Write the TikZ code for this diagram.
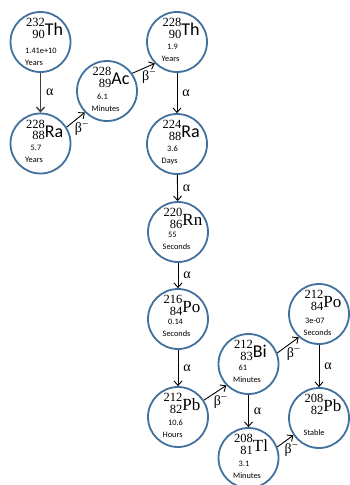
\documentclass[tikz,border=0pt]{standalone}
\usepackage{fontspec}
\setmainfont{Liberation Serif}
\newfontfamily\carl{Carlito}
\usetikzlibrary{arrows.meta}
\definecolor{ring}{HTML}{41719C}
\definecolor{darr}{HTML}{404040}
\newcommand\numsz{\fontsize{12.5}{11.5}\selectfont}
\newcommand\symS[1]{{\carl\fontsize{18}{18}\selectfont #1}}
\newcommand\symR[1]{{\fontsize{17}{17}\selectfont #1}}
\newcommand\isot[3]{\raisebox{2.5pt}{\numsz\begin{tabular}[c]{@{}r@{}}#1\\#2\end{tabular}}#3}
\newcommand\nuclide[9]{%
  \node[nuc] (#1) at (#2,#3) {};
  \node[isolab] (#1i) at ({#2-14.5},{#3-12}) {\isot{#4}{#5}{#6}};
  \node[small] (#1h) at ({#2-10},{#3+5+#9}) {#7};
  \node[small] (#1u) at ({#2-15.5},{#3+17+#9}) {#8};
}
\newcommand\betam{β\raisebox{5pt}{\fontsize{11}{11}\selectfont −}}
\begin{document}
\begin{tikzpicture}[x=1pt,y=-1pt,
  nuc/.style={circle, draw=ring, line width=1.8pt, fill=white, minimum size=60pt, inner sep=0pt},
  isolab/.style={anchor=west, inner sep=0pt},
  small/.style={anchor=west, inner sep=0pt, font=\carl\fontsize{8.3}{9}\selectfont, text height=6pt, text depth=1.6pt},
  arr/.style={-{Straight Barb[length=4.5pt,width=8pt]}, line width=0.9pt},
  alab/.style={right, inner sep=0pt, xshift=5pt, font=\fontsize{14}{14}\selectfont},
  blab/.style={pos=0.4, anchor=north west, inner sep=0.5pt, font=\fontsize{14}{14}\selectfont}]
\useasboundingbox (0,0) rectangle (350,485);

\nuclide{th232}{40.5}{42}{232}{90}{\symS{Th}}{\hspace*{-5.5pt}1.41e+10}{Years}{4}
\nuclide{ra228}{40.5}{143.5}{228}{88}{\symS{Ra}}{5.7}{Years}{0}
\nuclide{ac228}{107}{91}{228}{89}{\symS{Ac}}{6.1}{Minutes}{1}
\nuclide{th228}{177}{42}{228}{90}{\symS{Th}}{1.9}{Years}{0}
\nuclide{ra224}{177}{144}{224}{88}{\symS{Ra}}{3.6}{Days}{0}
\nuclide{rn220}{178}{232}{220}{86}{\symR{Rn}}{55}{Seconds}{-2}
\nuclide{po216}{178}{319}{216}{84}{\symR{Po}}{0.14}{Seconds}{-2}
\nuclide{pb212}{178}{417}{212}{82}{\symR{Pb}}{10.6}{Hours}{1}
\nuclide{bi212}{248.5}{364}{212}{83}{\symS{Bi}}{61}{Minutes}{-1}
\nuclide{po212}{319}{314}{212}{84}{\symR{Po}}{\hspace*{-4pt}3e-07}{Seconds}{2}
\nuclide{tl208}{248.5}{458}{208}{81}{\symR{Tl}}{3.1}{Minutes}{1}
\node[nuc] (pb208) at (319,418) {};
\node[isolab] (pb208i) at (304.5,406) {\isot{208}{82}{\symR{Pb}}};
\node[small] (pb208u) at (303.5,433) {Stable};

\draw[arr, draw=darr, line width=1.4pt] (th232) -- node[alab]{α} (ra228);
\draw[arr] (th228) -- node[alab]{α} (ra224);
\draw[arr] (ra224) -- node[alab]{α} (rn220);
\draw[arr] (rn220) -- node[alab]{α} (po216);
\draw[arr] (po216) -- node[alab]{α} (pb212);
\draw[arr] (bi212) -- node[alab]{α} (tl208);
\draw[arr] (po212) -- node[alab]{α} (pb208);

\draw[arr] (ra228.32) -- node[blab]{\betam} (ac228.224);
\draw[arr] (ac228.35) -- node[blab]{\betam} (th228.224);
\draw[arr] (pb212.33) -- node[blab]{\betam} (bi212.224);
\draw[arr] (bi212.21) -- node[blab]{\betam} (po212.229);
\draw[arr] (tl208.21) -- node[blab]{\betam} (pb208.214);
\end{tikzpicture}
\end{document}
